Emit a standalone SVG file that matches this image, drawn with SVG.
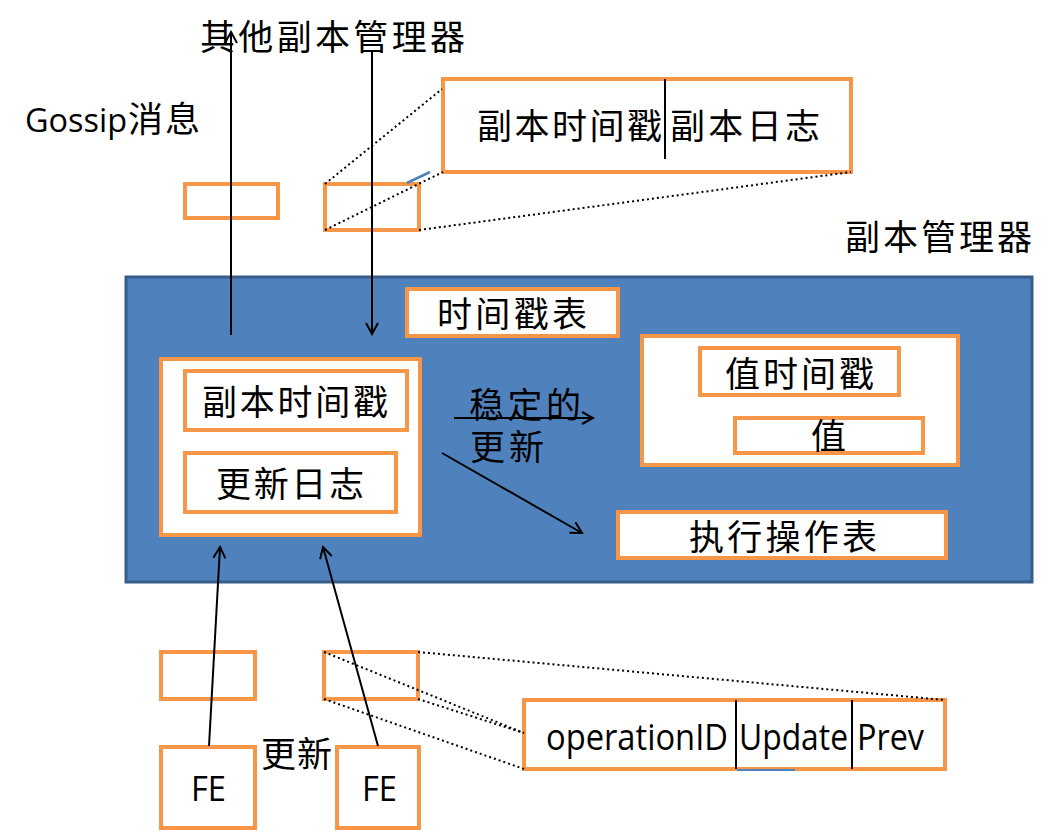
<svg xmlns="http://www.w3.org/2000/svg" width="1063" height="833" viewBox="0 0 1063 833">
<defs>
<marker id="arr" markerWidth="14" markerHeight="14" refX="12" refY="7" orient="auto" markerUnits="userSpaceOnUse">
<path d="M1,1 L12,7 L1,13" fill="none" stroke="#000" stroke-width="2"/>
</marker>
<style>
.ob{fill:#fff;stroke:#f79646;stroke-width:4}
.cj{font-family:"Liberation Serif","Noto Sans CJK SC",serif;font-size:35px;fill:#000}
.lt{font-family:"Open Sans","Liberation Sans",sans-serif;font-size:36px;fill:#000}
.dot{stroke:#000;stroke-width:2;stroke-dasharray:2 3;fill:none}
.ln{stroke:#000;stroke-width:2;fill:none}
</style>
</defs>
<rect width="1063" height="833" fill="#fff"/>

<g id="labels">
<text class="cj" x="200" y="50" textLength="265">其他副本管理器</text>
<text class="lt" x="25" y="132" style="font-size:32px" textLength="102" lengthAdjust="spacingAndGlyphs">Gossip</text>
<text class="cj" x="128" y="132" textLength="72">消息</text>
<text class="cj" x="845" y="250" textLength="187">副本管理器</text>
</g>

<g id="replica-manager">
<rect x="126" y="277" width="906" height="305" fill="#4f81bd" stroke="#385d8a" stroke-width="3"/>
</g>

<g id="top-small-1"><rect class="ob" x="185" y="184" width="93" height="34"/></g>
<g id="top-small-2"><rect class="ob" x="325" y="184" width="94" height="46"/></g>
<g id="top-record">
<rect class="ob" x="443" y="79" width="408" height="93"/>
<line class="ln" x1="665" y1="79" x2="665" y2="159"/>
<text class="cj" x="477" y="139" textLength="185">副本时间戳</text>
<text class="cj" x="670" y="139" textLength="150">副本日志</text>
</g>

<g id="timestamp-table">
<rect class="ob" x="407" y="289" width="211" height="47"/>
<text class="cj" x="437" y="327" textLength="150">时间戳表</text>
</g>

<g id="inner-box">
<rect class="ob" x="161" y="359" width="259" height="176"/>
</g>
<g id="replica-ts">
<rect class="ob" x="185" y="371" width="222" height="59"/>
<text class="cj" x="202" y="415" textLength="186">副本时间戳</text>
</g>
<g id="update-log">
<rect class="ob" x="185" y="453" width="211" height="59"/>
<text class="cj" x="216" y="497" textLength="148">更新日志</text>
</g>

<g id="stable-label">
<text class="cj" x="469" y="418" textLength="112">稳定的</text>
<text class="cj" x="470" y="460" textLength="74">更新</text>
</g>

<g id="value-box">
<rect class="ob" x="642" y="336" width="316" height="129"/>
</g>
<g id="value-ts">
<rect class="ob" x="700" y="348" width="199" height="47"/>
<text class="cj" x="725" y="387" textLength="149">值时间戳</text>
</g>
<g id="value">
<rect class="ob" x="735" y="418" width="188" height="35"/>
<text class="cj" x="811" y="449">值</text>
</g>

<g id="executed-table">
<rect class="ob" x="618" y="512" width="328" height="46"/>
<text class="cj" x="689" y="550" textLength="188">执行操作表</text>
</g>

<g id="bottom-small-1"><rect class="ob" x="161" y="652" width="94" height="47"/></g>
<g id="bottom-small-2"><rect class="ob" x="324" y="652" width="94" height="47"/></g>
<g id="op-record">
<rect class="ob" x="524" y="700" width="421" height="69"/>
<line class="ln" x1="736" y1="700" x2="736" y2="769"/>
<line class="ln" x1="852" y1="700" x2="852" y2="769"/>
<line x1="737" y1="770" x2="795" y2="770" stroke="#4f81bd" stroke-width="2"/>
<text class="lt" x="546" y="750" textLength="182" lengthAdjust="spacingAndGlyphs">operationID</text>
<text class="lt" x="739" y="750" textLength="109" lengthAdjust="spacingAndGlyphs">Update</text>
<text class="lt" x="857" y="750" textLength="67" lengthAdjust="spacingAndGlyphs">Prev</text>
</g>

<g id="fe-1">
<rect class="ob" x="161" y="747" width="94" height="81"/>
<text class="lt" x="191" y="801" style="font-size:35px" textLength="35" lengthAdjust="spacingAndGlyphs">FE</text>
</g>
<g id="fe-2">
<rect class="ob" x="337" y="747" width="82" height="81"/>
<text class="lt" x="362" y="801" style="font-size:35px" textLength="35" lengthAdjust="spacingAndGlyphs">FE</text>
</g>
<g id="update-label">
<text class="cj" x="261" y="767" textLength="71">更新</text>
</g>

<g id="connectors">
<line class="dot" x1="325" y1="184" x2="442" y2="89"/>
<line class="dot" x1="325" y1="230" x2="443" y2="172"/>
<line class="dot" x1="419" y1="230" x2="851" y2="172"/>
<line x1="407" y1="183" x2="430" y2="172" stroke="#4f81bd" stroke-width="2.5"/>

<line class="dot" x1="324" y1="652" x2="524" y2="733"/>
<line class="dot" x1="418" y1="699" x2="524" y2="733"/>
<line class="dot" x1="324" y1="699" x2="524" y2="769"/>
<line class="dot" x1="418" y1="652" x2="945" y2="700"/>

<line class="ln" x1="231" y1="335" x2="231" y2="32" marker-end="url(#arr)"/>
<line class="ln" x1="372" y1="50" x2="372" y2="334" marker-end="url(#arr)"/>
<line class="ln" x1="454" y1="418" x2="593" y2="418" marker-end="url(#arr)"/>
<line class="ln" x1="442" y1="453" x2="582" y2="533" marker-end="url(#arr)"/>
<line class="ln" x1="209" y1="746" x2="220" y2="547" marker-end="url(#arr)"/>
<line class="ln" x1="378" y1="746" x2="323" y2="547" marker-end="url(#arr)"/>
</g>
</svg>
